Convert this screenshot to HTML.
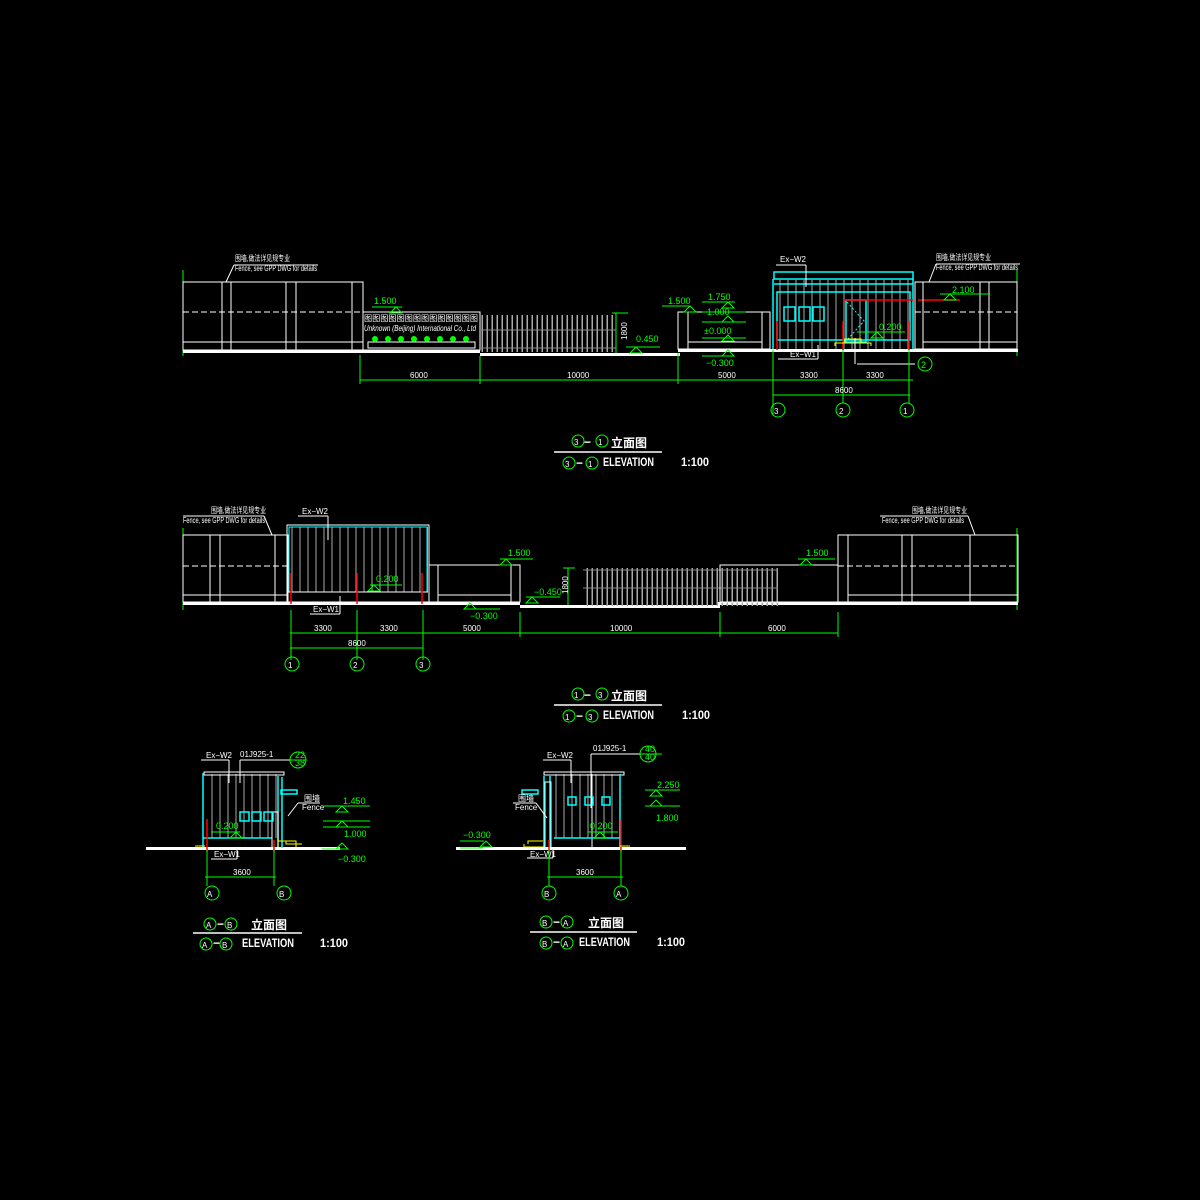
<!DOCTYPE html>
<html><head><meta charset="utf-8"><style>
html,body{margin:0;padding:0;background:#000;width:1200px;height:1200px;overflow:hidden}
svg{display:block}
text{font-family:"Liberation Sans","Noto Sans CJK SC",sans-serif}
.w{stroke:#fff;fill:none;stroke-width:1}
.g{stroke:#0f0;fill:none;stroke-width:1}
.c{stroke:#0ff;fill:none;stroke-width:1.5}
.r{stroke:#f00;stroke-width:1.5}
.gt{fill:#0f0;font-size:9px}
.wt{fill:#fff;font-size:8px}
.tt{fill:#fff;font-size:12px;font-weight:bold}
</style></head><body>
<svg width="1200" height="1200" viewBox="0 0 1200 1200" xmlns="http://www.w3.org/2000/svg">
<defs>
<pattern id="vb" width="8" height="10" patternUnits="userSpaceOnUse"><line x1="4" y1="0" x2="4" y2="10" stroke="#aaa" stroke-width="1"/></pattern>
<pattern id="fb" width="5" height="40" patternUnits="userSpaceOnUse"><rect x="1.5" y="0" width="1.5" height="40" fill="#aaa"/><line x1="0" y1="10" x2="5" y2="10" stroke="#888"/><line x1="0" y1="28" x2="5" y2="28" stroke="#888"/></pattern>
<g id="lev"><path d="M-6,0 L6,0 L0,-6 Z" class="g"/></g>
</defs>

<!-- ================= DRAWING 1 ================= -->
<g>
<line x1="183" y1="270" x2="183" y2="356" class="g"/>
<line x1="1017" y1="270" x2="1017" y2="356" class="g"/>
<rect x="183" y="350" width="180" height="3" fill="#fff"/>
<rect x="363" y="350" width="117" height="3" fill="#fff"/>
<rect x="480" y="353" width="200" height="3" fill="#fff"/>
<rect x="678" y="349" width="340" height="3" fill="#fff"/>
<rect x="183" y="282" width="180" height="68" class="w"/>
<line x1="222" y1="282" x2="222" y2="350" class="w"/><line x1="231" y1="282" x2="231" y2="350" class="w"/>
<line x1="286" y1="282" x2="286" y2="350" class="w"/><line x1="296" y1="282" x2="296" y2="350" class="w"/>
<line x1="352" y1="282" x2="352" y2="350" class="w"/>
<line x1="183" y1="312" x2="363" y2="312" class="w" stroke-dasharray="6,3"/>
<line x1="183" y1="342" x2="363" y2="342" class="w"/>
<line x1="226" y1="282" x2="234" y2="265" class="w"/><line x1="234" y1="265" x2="318" y2="265" class="w"/>
<text x="235" y="261" class="wt" font-size="7" textLength="55" lengthAdjust="spacingAndGlyphs">围墙,做法详见规专业</text>
<text x="235" y="271" class="wt" font-size="7" textLength="82" lengthAdjust="spacingAndGlyphs">Fence, see GPP DWG for details</text>
<rect x="363" y="312" width="117" height="38" class="w"/>
<text x="364" y="321" class="wt" font-size="8" textLength="114" lengthAdjust="spacingAndGlyphs">图图图图图图图图图图图图图图</text>
<text x="364" y="331" class="wt" font-size="5.5" font-style="italic" textLength="112" lengthAdjust="spacingAndGlyphs">Unknown (Beijing) International Co., Ltd</text>
<rect x="368" y="342" width="107" height="6" class="w"/>
<g fill="#0f0"><circle cx="375" cy="339" r="3"/><circle cx="388" cy="339" r="3"/><circle cx="401" cy="339" r="3"/><circle cx="414" cy="339" r="3"/><circle cx="427" cy="339" r="3"/><circle cx="440" cy="339" r="3"/><circle cx="453" cy="339" r="3"/><circle cx="466" cy="339" r="3"/></g>
<line x1="372" y1="307" x2="402" y2="307" class="g"/><use href="#lev" x="396" y="313"/>
<text x="374" y="304" class="gt">1.500</text>
<rect x="481" y="315" width="135" height="37" fill="url(#fb)"/>
<line x1="616" y1="313" x2="616" y2="353" class="g"/><line x1="612" y1="313" x2="628" y2="313" class="g"/>
<text x="627" y="340" class="wt" transform="rotate(-90 627 340)">1800</text>
<line x1="626" y1="347" x2="660" y2="347" class="g"/><use href="#lev" x="636" y="353"/><text x="636" y="342" class="gt">0.450</text>
<rect x="678" y="312" width="92" height="37" class="w"/>
<line x1="688" y1="312" x2="688" y2="349" class="w"/><line x1="762" y1="312" x2="762" y2="349" class="w"/>
<line x1="688" y1="342" x2="762" y2="342" class="w"/>
<line x1="662" y1="306" x2="690" y2="306" class="g"/><use href="#lev" x="690" y="312"/><text x="668" y="304" class="gt">1.500</text>
<line x1="702" y1="302" x2="735" y2="302" class="g"/><use href="#lev" x="728" y="308"/><text x="708" y="300" class="gt">1.750</text>
<line x1="702" y1="312" x2="746" y2="312" class="g"/><line x1="702" y1="322" x2="746" y2="322" class="g"/><use href="#lev" x="728" y="322"/><text x="707" y="315" class="gt">1.000</text>
<line x1="702" y1="338" x2="746" y2="338" class="g"/><use href="#lev" x="728" y="341"/><text x="704" y="334" class="gt">±0.000</text>
<line x1="702" y1="356" x2="734" y2="356" class="g"/><use href="#lev" x="728" y="356"/><text x="706" y="366" class="gt">−0.300</text>
<rect x="775" y="280" width="138" height="69" fill="url(#vb)"/>
<rect x="774" y="272" width="139" height="7" class="c"/>
<line x1="774" y1="284" x2="913" y2="284" class="c"/>
<rect x="777" y="292" width="133" height="48" class="c"/>
<line x1="773" y1="279" x2="773" y2="349" class="c"/><line x1="913" y1="279" x2="913" y2="349" class="c"/>
<rect x="784" y="307" width="11" height="14" class="c" stroke-width="2.5"/><rect x="799" y="307" width="11" height="14" class="c" stroke-width="2.5"/><rect x="813" y="307" width="11" height="14" class="c" stroke-width="2.5"/>
<rect x="846" y="300" width="20" height="42" class="c"/><path d="M847,302 L864,321 L847,340" stroke="#0ff" fill="none" stroke-dasharray="2,2"/>
<line x1="844" y1="300" x2="913" y2="300" class="r"/><line x1="918" y1="300" x2="960" y2="300" class="r"/>
<line x1="777" y1="321" x2="777" y2="350" class="r"/><line x1="843" y1="321" x2="843" y2="350" class="r"/><line x1="909" y1="321" x2="909" y2="350" class="r"/>
<path d="M835,346 L835,343 L871,343 L871,346 M845,343 L845,339 L861,339 L861,343" stroke="#ff0" fill="none"/>
<line x1="855" y1="338" x2="855" y2="364" class="w" stroke-width="2"/><line x1="857" y1="364" x2="915" y2="364" class="w"/>
<circle cx="925" cy="364" r="7" class="g"/><text x="921" y="368" class="gt">2</text>
<line x1="857" y1="332" x2="905" y2="332" class="g"/><use href="#lev" x="877" y="338"/><text x="879" y="330" class="gt">0.200</text>
<line x1="778" y1="359" x2="818" y2="359" class="w"/><line x1="818" y1="345" x2="818" y2="359" class="w"/><text x="790" y="357" class="wt">Ex−W1</text>
<line x1="776" y1="265" x2="806" y2="265" class="w"/><line x1="806" y1="265" x2="806" y2="287" class="w"/><text x="780" y="262" class="wt">Ex−W2</text>
<rect x="915" y="282" width="102" height="67" class="w"/>
<line x1="923" y1="282" x2="923" y2="349" class="w"/><line x1="980" y1="282" x2="980" y2="349" class="w"/><line x1="989" y1="282" x2="989" y2="349" class="w"/>
<line x1="915" y1="312" x2="1017" y2="312" class="w" stroke-dasharray="6,3"/><line x1="923" y1="342" x2="1017" y2="342" class="w"/>
<line x1="929" y1="282" x2="936" y2="264" class="w"/><line x1="936" y1="264" x2="1020" y2="264" class="w"/>
<text x="936" y="260" class="wt" font-size="7" textLength="55" lengthAdjust="spacingAndGlyphs">围墙,做法详见规专业</text><text x="936" y="270" class="wt" font-size="7" textLength="82" lengthAdjust="spacingAndGlyphs">Fence, see GPP DWG for details</text>
<line x1="940" y1="294" x2="990" y2="294" class="g"/><use href="#lev" x="950" y="300"/><text x="952" y="293" class="gt">2.100</text>
<line x1="360" y1="380" x2="913" y2="380" class="g"/>
<g class="g"><line x1="360" y1="355" x2="360" y2="384"/><line x1="480" y1="356" x2="480" y2="384"/><line x1="678" y1="353" x2="678" y2="384"/><line x1="773" y1="350" x2="773" y2="415"/><line x1="843" y1="350" x2="843" y2="403"/><line x1="909" y1="350" x2="909" y2="403"/></g>
<line x1="773" y1="395" x2="910" y2="395" class="g"/>
<g class="wt"><text x="410" y="378">6000</text><text x="567" y="378">10000</text><text x="718" y="378">5000</text><text x="800" y="378">3300</text><text x="866" y="378">3300</text><text x="835" y="393">8600</text></g>
<g class="g"><circle cx="778" cy="410" r="7"/><circle cx="843" cy="410" r="7"/><circle cx="907" cy="410" r="7"/></g>
<g class="wt" font-size="11"><text x="774" y="414">3</text><text x="839" y="414">2</text><text x="903" y="414">1</text></g>
<circle cx="578" cy="441" r="6" class="g"/><text x="574" y="445" class="wt" font-size="10">3</text>
<text x="584" y="446" class="tt">−</text>
<circle cx="602" cy="441" r="6" class="g"/><text x="598" y="445" class="wt" font-size="10">1</text>
<text x="611" y="447" class="tt" font-size="12">立面图</text>
<line x1="554" y1="452" x2="662" y2="452" stroke="#fff" stroke-width="1.5"/>
<circle cx="569" cy="463" r="6" class="g"/><text x="565" y="467" class="wt" font-size="10">3</text>
<text x="576" y="467" class="tt" font-size="11">−</text>
<circle cx="592" cy="463" r="6" class="g"/><text x="588" y="467" class="wt" font-size="10">1</text>
<text x="603" y="466" class="tt" font-size="11" textLength="51" lengthAdjust="spacingAndGlyphs">ELEVATION</text><text x="681" y="466" class="tt" font-size="11" textLength="28" lengthAdjust="spacingAndGlyphs">1:100</text>
</g>

<!-- ================= DRAWING 2 ================= -->
<g>
<line x1="183" y1="528" x2="183" y2="610" class="g"/><line x1="1017" y1="528" x2="1017" y2="610" class="g"/>
<rect x="183" y="602" width="337" height="3" fill="#fff"/>
<rect x="520" y="605" width="200" height="3" fill="#fff"/>
<rect x="718" y="602" width="300" height="3" fill="#fff"/>
<rect x="183" y="535" width="105" height="67" class="w"/>
<line x1="210" y1="535" x2="210" y2="602" class="w"/><line x1="220" y1="535" x2="220" y2="602" class="w"/><line x1="275" y1="535" x2="275" y2="602" class="w"/>
<line x1="183" y1="566" x2="288" y2="566" class="w" stroke-dasharray="6,3"/><line x1="183" y1="595" x2="288" y2="595" class="w"/>
<line x1="272" y1="535" x2="264" y2="516" class="w"/><line x1="183" y1="516" x2="264" y2="516" class="w"/>
<text x="211" y="513" class="wt" font-size="7" textLength="55" lengthAdjust="spacingAndGlyphs">围墙,做法详见规专业</text><text x="183" y="523" class="wt" font-size="7" textLength="82" lengthAdjust="spacingAndGlyphs">Fence, see GPP DWG for details</text>
<rect x="288" y="527" width="140" height="65" fill="url(#vb)"/>
<rect x="287" y="525" width="142" height="77" class="w"/>
<rect x="289" y="527" width="138" height="65" stroke="#0ff" fill="none"/>
<line x1="288" y1="592" x2="428" y2="592" class="w" stroke-width="2"/>
<line x1="291" y1="573" x2="291" y2="604" class="r"/><line x1="357" y1="573" x2="357" y2="604" class="r"/><line x1="422" y1="573" x2="422" y2="604" class="r"/>
<line x1="298" y1="516" x2="328" y2="516" class="w"/><line x1="328" y1="516" x2="328" y2="540" class="w"/><text x="302" y="514" class="wt">Ex−W2</text>
<line x1="310" y1="614" x2="340" y2="614" class="w"/><line x1="340" y1="596" x2="340" y2="614" class="w"/><text x="313" y="612" class="wt">Ex−W1</text>
<line x1="370" y1="585" x2="402" y2="585" class="g"/><use href="#lev" x="374" y="591"/><text x="376" y="582" class="gt">0.200</text>
<rect x="429" y="565" width="91" height="37" class="w"/><line x1="438" y1="565" x2="438" y2="602" class="w"/><line x1="511" y1="565" x2="511" y2="602" class="w"/><line x1="438" y1="595" x2="511" y2="595" class="w"/>
<line x1="500" y1="559" x2="533" y2="559" class="g"/><use href="#lev" x="506" y="565"/><text x="508" y="556" class="gt">1.500</text>
<line x1="466" y1="609" x2="500" y2="609" class="g"/><path d="M464,609 L476,609 L470,603 Z" class="g"/><text x="470" y="619" class="gt">−0.300</text>
<line x1="526" y1="597" x2="560" y2="597" class="g"/><use href="#lev" x="532" y="603"/><text x="534" y="595" class="gt">−0.450</text>
<line x1="568" y1="568" x2="568" y2="605" class="g"/><line x1="563" y1="568" x2="575" y2="568" class="g"/>
<text x="568" y="594" class="wt" transform="rotate(-90 568 594)">1800</text>
<rect x="583" y="568" width="195" height="38" fill="url(#fb)"/>
<rect x="838" y="535" width="180" height="67" class="w"/>
<line x1="848" y1="535" x2="848" y2="602" class="w"/><line x1="902" y1="535" x2="902" y2="602" class="w"/><line x1="912" y1="535" x2="912" y2="602" class="w"/><line x1="970" y1="535" x2="970" y2="602" class="w"/>
<line x1="838" y1="566" x2="1018" y2="566" class="w" stroke-dasharray="6,3"/><line x1="848" y1="595" x2="1018" y2="595" class="w"/>
<rect x="720" y="565" width="118" height="37" class="w"/>
<line x1="975" y1="535" x2="968" y2="516" class="w"/><line x1="880" y1="516" x2="968" y2="516" class="w"/>
<text x="912" y="513" class="wt" font-size="7" textLength="55" lengthAdjust="spacingAndGlyphs">围墙,做法详见规专业</text><text x="882" y="523" class="wt" font-size="7" textLength="82" lengthAdjust="spacingAndGlyphs">Fence, see GPP DWG for details</text>
<line x1="798" y1="559" x2="835" y2="559" class="g"/><use href="#lev" x="806" y="565"/><text x="806" y="556" class="gt">1.500</text>
<line x1="290" y1="633" x2="838" y2="633" class="g"/>
<g class="g"><line x1="291" y1="610" x2="291" y2="660"/><line x1="357" y1="610" x2="357" y2="660"/><line x1="423" y1="610" x2="423" y2="660"/><line x1="520" y1="612" x2="520" y2="637"/><line x1="720" y1="612" x2="720" y2="637"/><line x1="838" y1="612" x2="838" y2="637"/></g>
<line x1="290" y1="648" x2="423" y2="648" class="g"/>
<g class="wt"><text x="314" y="631">3300</text><text x="380" y="631">3300</text><text x="463" y="631">5000</text><text x="610" y="631">10000</text><text x="768" y="631">6000</text><text x="348" y="646">8600</text></g>
<g class="g"><circle cx="292" cy="664" r="7"/><circle cx="357" cy="664" r="7"/><circle cx="423" cy="664" r="7"/></g>
<g class="wt" font-size="11"><text x="288" y="668">1</text><text x="353" y="668">2</text><text x="419" y="668">3</text></g>
<circle cx="578" cy="694" r="6" class="g"/><text x="574" y="698" class="wt" font-size="10">1</text>
<text x="584" y="699" class="tt">−</text>
<circle cx="602" cy="694" r="6" class="g"/><text x="598" y="698" class="wt" font-size="10">3</text>
<text x="611" y="700" class="tt" font-size="12">立面图</text>
<line x1="554" y1="705" x2="662" y2="705" stroke="#fff" stroke-width="1.5"/>
<circle cx="569" cy="716" r="6" class="g"/><text x="565" y="720" class="wt" font-size="10">1</text>
<text x="576" y="720" class="tt" font-size="11">−</text>
<circle cx="592" cy="716" r="6" class="g"/><text x="588" y="720" class="wt" font-size="10">3</text>
<text x="603" y="719" class="tt" font-size="11" textLength="51" lengthAdjust="spacingAndGlyphs">ELEVATION</text><text x="682" y="719" class="tt" font-size="11" textLength="28" lengthAdjust="spacingAndGlyphs">1:100</text>
</g>

<!-- ================= DRAWING 3 ================= -->
<g>
<rect x="146" y="847" width="194" height="3" fill="#fff"/>
<rect x="207" y="774" width="70" height="64" fill="url(#vb)"/>
<rect x="204" y="772" width="80" height="3" class="w"/>
<line x1="203" y1="773" x2="203" y2="847" class="c"/><line x1="278" y1="776" x2="278" y2="847" class="c"/>
<line x1="203" y1="838" x2="272" y2="838" class="c"/>
<line x1="282" y1="777" x2="282" y2="848" class="c"/>
<rect x="281" y="790" width="16" height="4" class="c"/>
<rect x="272" y="812" width="6" height="36" class="w"/>
<rect x="240" y="812" width="9" height="9" class="c" stroke-width="2.5"/><rect x="252" y="812" width="9" height="9" class="c" stroke-width="2.5"/><rect x="264" y="812" width="9" height="9" class="c" stroke-width="2.5"/>
<line x1="207" y1="819" x2="207" y2="852" class="r"/><line x1="274" y1="840" x2="274" y2="852" class="r"/>
<path d="M278,847 L278,841 L296,841 L296,847 M286,841 L286,844 L302,844" stroke="#ff0" fill="none"/>
<line x1="195" y1="846" x2="205" y2="846" stroke="#ff0"/>
<line x1="211" y1="832" x2="240" y2="832" class="g"/><use href="#lev" x="236" y="838"/><text x="216" y="829" class="gt">0.200</text>
<line x1="201" y1="760" x2="229" y2="760" class="w"/><line x1="229" y1="760" x2="229" y2="783" class="w"/><text x="206" y="758" class="wt">Ex−W2</text>
<line x1="240" y1="760" x2="298" y2="760" class="w"/><line x1="240" y1="760" x2="240" y2="783" class="w"/><text x="240" y="757" class="wt" font-size="9">01J925-1</text>
<circle cx="298" cy="760" r="8" class="g"/><line x1="290" y1="760" x2="306" y2="760" class="g"/><text x="295" y="758" class="gt" font-size="6">22</text><text x="295" y="766" class="gt" font-size="6">38</text>
<line x1="288" y1="816" x2="298" y2="803" class="w"/><line x1="298" y1="803" x2="320" y2="803" class="w"/><text x="304" y="801" class="wt" font-size="7">围墙</text><text x="302" y="810" class="wt" font-size="6">Fence</text>
<line x1="323" y1="806" x2="370" y2="806" class="g"/><line x1="323" y1="821" x2="370" y2="821" class="g"/><use href="#lev" x="342" y="812"/><text x="343" y="804" class="gt">1.450</text>
<line x1="323" y1="827" x2="370" y2="827" class="g"/><path d="M336,827 L348,827 L342,821 Z" class="g"/><text x="344" y="837" class="gt">1.000</text>
<line x1="322" y1="849" x2="346" y2="849" class="g"/><path d="M336,849 L348,849 L342,843 Z" class="g"/><text x="338" y="862" class="gt">−0.300</text>
<line x1="211" y1="859" x2="237" y2="859" class="w"/><line x1="237" y1="850" x2="237" y2="859" class="w"/><text x="214" y="857" class="wt">Ex−W1</text>
<line x1="207" y1="850" x2="207" y2="886" class="g"/><line x1="274" y1="850" x2="274" y2="886" class="g"/>
<line x1="205" y1="877" x2="276" y2="877" class="g"/><text x="233" y="875" class="wt">3600</text>
<circle cx="212" cy="893" r="7" class="g"/><circle cx="284" cy="893" r="7" class="g"/>
<text x="207" y="897" class="wt" font-size="11">A</text><text x="279" y="897" class="wt" font-size="11">B</text>
<circle cx="210" cy="924" r="6" class="g"/><text x="206" y="928" class="wt" font-size="9">A</text>
<text x="217" y="928" class="tt" font-size="11">−</text>
<circle cx="231" cy="924" r="6" class="g"/><text x="227" y="928" class="wt" font-size="9">B</text>
<text x="251" y="929" class="tt" font-size="12">立面图</text>
<line x1="193" y1="933" x2="302" y2="933" stroke="#fff" stroke-width="1.5"/>
<circle cx="206" cy="944" r="6" class="g"/><text x="202" y="948" class="wt" font-size="9">A</text>
<text x="213" y="947" class="tt" font-size="11">−</text>
<circle cx="226" cy="944" r="6" class="g"/><text x="222" y="948" class="wt" font-size="9">B</text>
<text x="242" y="947" class="tt" font-size="11" textLength="52" lengthAdjust="spacingAndGlyphs">ELEVATION</text><text x="320" y="947" class="tt" font-size="11" textLength="28" lengthAdjust="spacingAndGlyphs">1:100</text>
</g>

<!-- ================= DRAWING 4 ================= -->
<g>
<rect x="456" y="847" width="230" height="3" fill="#fff"/>
<rect x="549" y="774" width="70" height="64" fill="url(#vb)"/>
<rect x="544" y="772" width="80" height="3" class="w"/>
<line x1="544" y1="776" x2="544" y2="847" class="c"/><line x1="550" y1="776" x2="550" y2="847" class="c"/><line x1="592" y1="774" x2="592" y2="847" class="w"/>
<line x1="620" y1="774" x2="620" y2="847" class="c"/>
<line x1="554" y1="838" x2="620" y2="838" class="c"/>
<rect x="522" y="790" width="16" height="4" class="c"/>
<rect x="545" y="782" width="6" height="66" class="w"/>
<rect x="568" y="797" width="8" height="8" class="c" stroke-width="2.5"/><rect x="585" y="797" width="8" height="8" class="c" stroke-width="2.5"/><rect x="602" y="797" width="8" height="8" class="c" stroke-width="2.5"/>
<line x1="621" y1="819" x2="621" y2="852" class="r"/><line x1="549" y1="840" x2="549" y2="852" class="r"/>
<path d="M544,847 L524,847 L524,844 M528,844 L528,841 L543,841" stroke="#ff0" fill="none"/>
<line x1="620" y1="846" x2="630" y2="846" stroke="#ff0"/>
<line x1="588" y1="832" x2="618" y2="832" class="g"/><use href="#lev" x="600" y="838"/><text x="590" y="829" class="gt">0.200</text>
<line x1="543" y1="760" x2="571" y2="760" class="w"/><line x1="571" y1="760" x2="571" y2="783" class="w"/><text x="547" y="758" class="wt">Ex−W2</text>
<line x1="591" y1="754" x2="650" y2="754" class="w"/><line x1="591" y1="754" x2="591" y2="808" class="w"/><text x="593" y="751" class="wt" font-size="9">01J925-1</text>
<circle cx="648" cy="754" r="8" class="g"/><line x1="640" y1="754" x2="662" y2="754" class="g"/><text x="645" y="752" class="gt" font-size="6">40</text><text x="645" y="760" class="gt" font-size="6">40</text>
<line x1="547" y1="818" x2="536" y2="803" class="w"/><line x1="513" y1="803" x2="536" y2="803" class="w"/><text x="518" y="801" class="wt" font-size="7">围墙</text><text x="515" y="810" class="wt" font-size="6">Fence</text>
<line x1="645" y1="790" x2="680" y2="790" class="g"/><line x1="645" y1="806" x2="680" y2="806" class="g"/><use href="#lev" x="656" y="796"/><path d="M650,806 L662,806 L656,800 Z" class="g"/>
<text x="657" y="788" class="gt">2.250</text><text x="656" y="821" class="gt">1.800</text>
<line x1="460" y1="841" x2="484" y2="841" class="g"/><line x1="460" y1="848" x2="483" y2="848" class="g"/><use href="#lev" x="486" y="847"/><text x="463" y="838" class="gt">−0.300</text>
<line x1="527" y1="858" x2="553" y2="858" class="w"/><line x1="553" y1="850" x2="553" y2="858" class="w"/><text x="530" y="857" class="wt">Ex−W1</text>
<line x1="549" y1="850" x2="549" y2="886" class="g"/><line x1="621" y1="850" x2="621" y2="886" class="g"/>
<line x1="547" y1="877" x2="623" y2="877" class="g"/><text x="576" y="875" class="wt">3600</text>
<circle cx="549" cy="893" r="7" class="g"/><circle cx="621" cy="893" r="7" class="g"/>
<text x="544" y="897" class="wt" font-size="11">B</text><text x="616" y="897" class="wt" font-size="11">A</text>
<circle cx="546" cy="922" r="6" class="g"/><text x="542" y="926" class="wt" font-size="9">B</text>
<text x="553" y="926" class="tt" font-size="11">−</text>
<circle cx="567" cy="922" r="6" class="g"/><text x="563" y="926" class="wt" font-size="9">A</text>
<text x="588" y="927" class="tt" font-size="12">立面图</text>
<line x1="530" y1="932" x2="637" y2="932" stroke="#fff" stroke-width="1.5"/>
<circle cx="546" cy="943" r="6" class="g"/><text x="542" y="947" class="wt" font-size="9">B</text>
<text x="553" y="946" class="tt" font-size="11">−</text>
<circle cx="567" cy="943" r="6" class="g"/><text x="563" y="947" class="wt" font-size="9">A</text>
<text x="579" y="946" class="tt" font-size="11" textLength="51" lengthAdjust="spacingAndGlyphs">ELEVATION</text><text x="657" y="946" class="tt" font-size="11" textLength="28" lengthAdjust="spacingAndGlyphs">1:100</text>
</g>
</svg>
</body></html>
